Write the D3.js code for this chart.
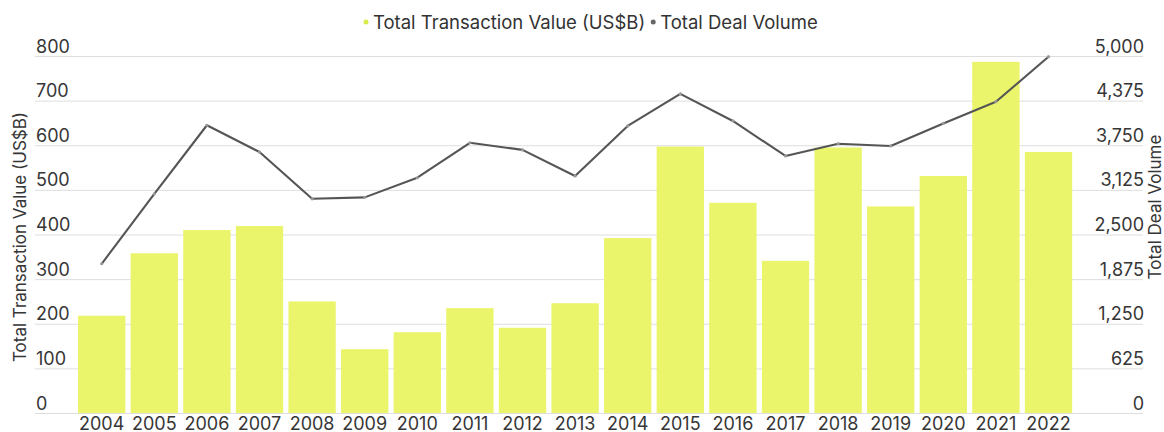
<!DOCTYPE html>
<html>
<head>
<meta charset="utf-8">
<script src="https://cdn.jsdelivr.net/npm/d3@7"></script>
<style>
  html, body { margin: 0; padding: 0; background: #fff; }
  svg { display: block; font-family: Inter, "Noto Sans", sans-serif; }
</style>
</head>
<body>
<svg id="chart" width="1164" height="432"></svg>
<script>
// Yearly totals
const years = ["2004","2005","2006","2007","2008","2009","2010","2011","2012","2013",
               "2014","2015","2016","2017","2018","2019","2020","2021","2022"];
const transactionValue = [218, 358, 410, 419, 250, 143, 181, 235, 191, 246,
                          392, 597, 471, 341, 595, 463, 531, 787, 585];
const dealVolume = [2090, 3070, 4030, 3655, 3000, 3020, 3295, 3785, 3685, 3320,
                    4020, 4470, 4090, 3600, 3770, 3740, 4055, 4360, 4990];
const leftTicks = [0, 100, 200, 300, 400, 500, 600, 700, 800];
const rightTicks = [0, 625, 1250, 1875, 2500, 3125, 3750, 4375, 5000];

const svg = d3.select("#chart");
const plotTop = 56, plotBottom = 413, gridLeft = 35, gridRight = 1143;
const textColor = "#363636";

const x = d3.scaleBand().domain(years).range([75.4, 1074.8])
  .paddingInner(0.1).paddingOuter(0.05);
const yL = d3.scaleLinear().domain([0, 800]).range([plotBottom, plotTop]);
const yR = d3.scaleLinear().domain([0, 5000]).range([plotBottom, plotTop]);

// Gridlines
svg.append("g").selectAll("line").data(leftTicks).join("line")
  .attr("x1", gridLeft).attr("x2", gridRight)
  .attr("y1", d => yL(d) + 0.5).attr("y2", d => yL(d) + 0.5)
  .attr("stroke", "#dedede").attr("stroke-width", 1);

// Left axis labels
svg.append("g").selectAll("text").data(leftTicks).join("text")
  .attr("x", 36).attr("y", d => yL(d) - 3.5)
  .attr("font-size", 18).attr("fill", textColor)
  .text(d => d);

// Right axis labels
svg.append("g").selectAll("text").data(rightTicks).join("text")
  .attr("x", 1144).attr("y", d => yR(d) - 3.5)
  .attr("text-anchor", "end")
  .attr("font-size", 18).attr("fill", textColor)
  .text(d => d3.format(",")(d));

// Bars
svg.append("g").selectAll("rect").data(years).join("rect")
  .attr("x", d => x(d))
  .attr("width", x.bandwidth())
  .attr("y", (d, i) => yL(transactionValue[i]))
  .attr("height", (d, i) => yL(0) - yL(transactionValue[i]))
  .attr("fill", "#ebf56b");

// Deal volume line
const line = d3.line()
  .x((d, i) => x(years[i]) + x.bandwidth() / 2)
  .y(d => yR(d));
svg.append("path").datum(dealVolume)
  .attr("d", line)
  .attr("fill", "none").attr("stroke", "#555").attr("stroke-width", 2.1)
  .attr("stroke-linejoin", "round");
svg.append("g").selectAll("circle").data(dealVolume).join("circle")
  .attr("cx", (d, i) => x(years[i]) + x.bandwidth() / 2)
  .attr("cy", d => yR(d))
  .attr("r", 1.6).attr("fill", "#999");

// X axis labels
svg.append("g").selectAll("text").data(years).join("text")
  .attr("x", d => x(d) + x.bandwidth() / 2).attr("y", 429.5)
  .attr("text-anchor", "middle")
  .attr("font-size", 18).attr("fill", textColor)
  .text(d => d);

// Axis titles
svg.append("text")
  .attr("transform", "translate(26,237) rotate(-90)")
  .attr("text-anchor", "middle")
  .attr("font-size", 17).attr("fill", textColor)
  .text("Total Transaction Value (US$B)");
svg.append("text")
  .attr("transform", "translate(1160.5,207) rotate(-90)")
  .attr("text-anchor", "middle")
  .attr("font-size", 17).attr("fill", textColor)
  .text("Total Deal Volume");

// Legend: dot + label pairs laid out left to right
const legendItems = [
  { label: "Total Transaction Value (US$B)", color: "#d8ec4a" },
  { label: "Total Deal Volume", color: "#666" }
];
const legend = svg.append("g");
let cursor = 366;
legendItems.forEach(item => {
  legend.append("circle").attr("cx", cursor).attr("cy", 22).attr("r", 2.5).attr("fill", item.color);
  const t = legend.append("text").attr("x", cursor + 7).attr("y", 29)
    .attr("font-size", 18.5).attr("fill", "#333")
    .text(item.label);
  cursor += 7 + t.node().getComputedTextLength() + 8;
});
</script>
</body>
</html>
